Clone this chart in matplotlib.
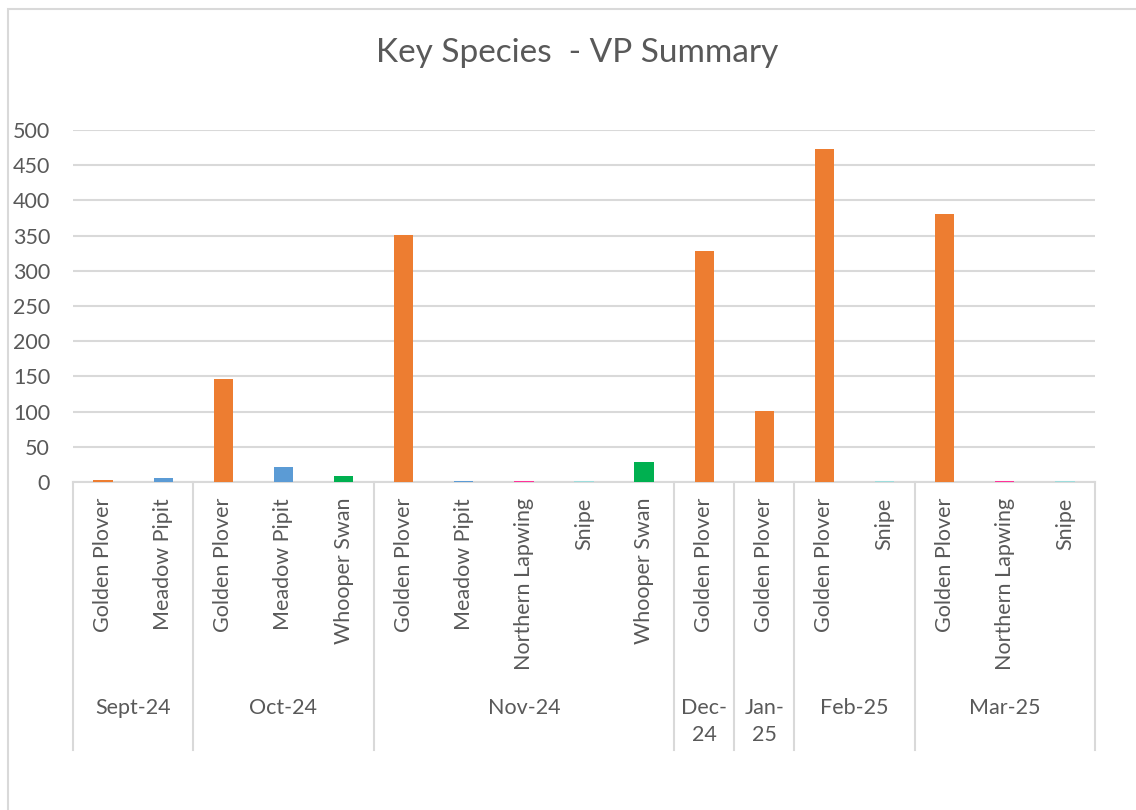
import matplotlib
matplotlib.use("Agg")
import matplotlib.pyplot as plt
from matplotlib.patches import Rectangle

plt.rcParams["font.family"] = ["Lato", "DejaVu Sans"]

# Data
months = ["Sept-24", "Oct-24", "Nov-24", "Dec-\n24", "Jan-\n25", "Feb-25", "Mar-25"]
species = [
    ["Golden Plover", "Meadow Pipit"],
    ["Golden Plover", "Meadow Pipit", "Whooper Swan"],
    ["Golden Plover", "Meadow Pipit", "Northern Lapwing", "Snipe", "Whooper Swan"],
    ["Golden Plover"],
    ["Golden Plover"],
    ["Golden Plover", "Snipe"],
    ["Golden Plover", "Northern Lapwing", "Snipe"],
]
counts = [
    [3, 5],
    [146, 21, 8],
    [351, 2, 2, 1, 29],
    [328],
    [101],
    [473, 1],
    [381, 2, 1],
]
colours = {
    "Golden Plover": "#ED7D31",
    "Meadow Pipit": "#5B9BD5",
    "Whooper Swan": "#00B050",
    "Northern Lapwing": "#FF3399",
    "Snipe": "#9DDCDC",
}

W, H = 1136, 810
fig = plt.figure(figsize=(W / 100, H / 100), dpi=100)

# outer chart border (runs off the right and bottom edge like the original)
fig.patches.append(Rectangle((8 / W, -0.1), 1.2, 1 - 9 / H + 0.1, transform=fig.transFigure,
                             fill=False, edgecolor="#D9D9D9", linewidth=1.5))

ax_l, ax_r, ax_t, ax_b = 73, 1095, 130, 482
ax = fig.add_axes([ax_l / W, 1 - ax_b / H, (ax_r - ax_l) / W, (ax_b - ax_t) / H])
ax_h = ax_b - ax_t

grey = "#595959"
line_col = "#D9D9D9"

xs, names, vals = [], [], []
i = 0
bounds = [-0.5]
for sp, ct in zip(species, counts):
    for s, v in zip(sp, ct):
        xs.append(i)
        names.append(s)
        vals.append(v)
        i += 1
    bounds.append(i - 0.5)

ax.bar(xs, vals, width=0.32, color=[colours[n] for n in names], zorder=3)

ax.set_xlim(-0.5, len(xs) - 0.5)
ax.set_ylim(0, 500)
ax.set_yticks(range(0, 501, 50))
ax.set_xticks([])
ax.yaxis.grid(True, color=line_col, linewidth=1.5, zorder=0)
ax.tick_params(axis="y", length=0, pad=16.5, labelsize=15.5, labelcolor=grey)
for side in ["left", "right", "top"]:
    ax.spines[side].set_visible(False)
ax.spines["bottom"].set_color(line_col)
ax.spines["bottom"].set_linewidth(1.5)
ax.spines["bottom"].set_zorder(1)

tr = ax.get_xaxis_transform()
for x, n in zip(xs, names):
    ax.text(x, -16 / ax_h, n, rotation=90, ha="center", va="top", transform=tr,
            fontsize=15.5, color=grey)

for b in bounds:
    ax.plot([b, b], [0, -268 / ax_h], transform=tr, color=line_col, linewidth=1.5, clip_on=False)

for m, lo, hi in zip(months, bounds[:-1], bounds[1:]):
    ax.text((lo + hi) / 2, -216 / ax_h, m, ha="center", va="top", transform=tr,
            fontsize=15.5, color=grey, linespacing=1.45)

fig.text(577 / W, 1 - 53 / H, "Key Species  - VP Summary", ha="center", va="center",
         fontsize=24, color=grey)

fig.savefig("out.png", dpi=100, facecolor="white")
